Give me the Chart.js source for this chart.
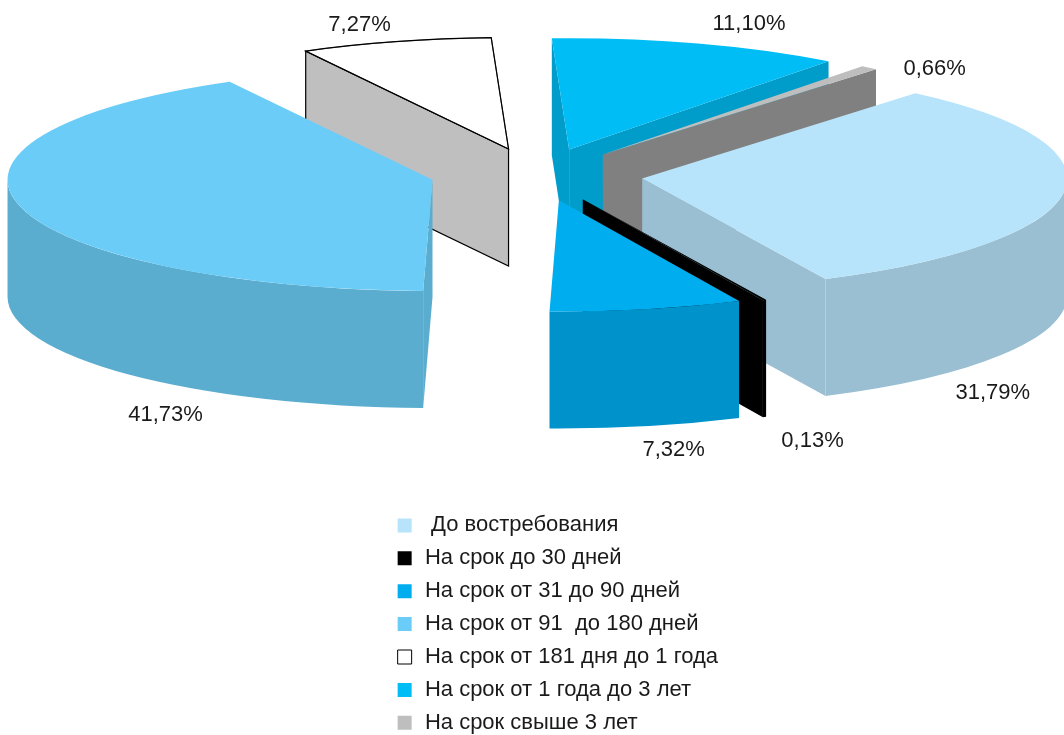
<!DOCTYPE html>
<html><head><meta charset="utf-8">
<style>html,body{margin:0;padding:0;background:#fff}canvas{display:block}</style>
<script src="https://cdn.jsdelivr.net/npm/chart.js@4"></script>
</head><body>
<canvas id="c" width="1064" height="735"></canvas>
<script>
const categories = [' До востребования','На срок до 30 дней','На срок от 31 до 90 дней','На срок от 91  до 180 дней','На срок от 181 дня до 1 года','На срок от 1 года до 3 лет','На срок свыше 3 лет'];
const shares = [31.79,0.13,7.32,41.73,7.27,11.10,0.66];
const topColors = ['#B7E4FA','#000000','#00AEEF','#6BCDF7','#FFFFFF','#00BEF5','#BEBEBE'];
const wallColors = ['#9ABFD2','#000000','#0093CB','#5AADCF','#BFBFBF','#009DCB','#808080'];
const borderWidths = [0,0,0,0,1,0,0];
const explode = [106,107,106,107.5,107,106,105];
const liftY = [-1,-2,-3,-3,0,0,0];
const drawOrder = [4,5,6,3,0,1,2];
const labelShift = [[-71,200],[48,141],[27,141],[146,209],[-36,-17],[51,-19.5],[65.5,1]];
const SQUASH = 0.262, DEPTH = 117, RADIUS = 425, CENTER_Y = 176;
const TEXT = '#1a1a1a', FONT = 'Liberation Sans, Arial, sans-serif';

const pie3d = {
  id:'pie3d',
  afterLayout(chart){
    const l = chart.legend;
    l.left = 384.5; l.right = 764; l.top = 503.5; l.bottom = 800;
  },
  beforeDatasetsDraw(chart){
    const ctx = chart.ctx, arcs = chart.getDatasetMeta(0).data;
    drawOrder.forEach(i=>{
      const a = arcs[i], p = a.getProps(['x','y','startAngle','endAngle','outerRadius']);
      const mid = (p.startAngle+p.endAngle)/2, off = explode[i];
      const sx = p.x+Math.cos(mid)*off, sy = CENTER_Y+Math.sin(mid)*off*SQUASH+liftY[i];
      const R = p.outerRadius, r = R*SQUASH;
      const pt = t=>[sx+R*Math.cos(t), sy+r*Math.sin(t)];
      const wall = path=>{ctx.beginPath();path();ctx.closePath();ctx.fillStyle=wallColors[i];ctx.fill();
        if(borderWidths[i]){ctx.strokeStyle='#000';ctx.lineWidth=1.2;ctx.stroke();}};
      const face = t=>{const q=pt(t);wall(()=>{ctx.moveTo(sx,sy);ctx.lineTo(q[0],q[1]);ctx.lineTo(q[0],q[1]+DEPTH);ctx.lineTo(sx,sy+DEPTH);});};
      // visible radial faces
      if(Math.cos(p.startAngle)<0) face(p.startAngle);
      if(Math.cos(p.endAngle)>0) face(p.endAngle);
      // visible outer rim (front half of the ellipse, angles 0..PI modulo 2PI)
      for(const k of [-2,0,2]){
        const lo=Math.max(p.startAngle,k*Math.PI), hi=Math.min(p.endAngle,(k+1)*Math.PI);
        if(hi>lo){
          wall(()=>{ctx.ellipse(sx,sy,R,r,0,lo,hi);ctx.ellipse(sx,sy+DEPTH,R,r,0,hi,lo,true);});
        }
      }
      // top surface, drawn by the library's arc element
      ctx.save();
      ctx.translate(sx,sy);ctx.scale(1,SQUASH);ctx.translate(-p.x,-p.y);
      a.draw(ctx);
      ctx.restore();
      if(borderWidths[i]){
        ctx.beginPath();ctx.moveTo(sx,sy);ctx.ellipse(sx,sy,R,r,0,p.startAngle,p.endAngle);ctx.closePath();
        ctx.strokeStyle='#000';ctx.lineWidth=1.2;ctx.stroke();
      }
    });
    return false;
  },
  afterDraw(chart){
    const ctx = chart.ctx, arcs = chart.getDatasetMeta(0).data;
    ctx.save();ctx.font='22px '+FONT;ctx.fillStyle=TEXT;ctx.textAlign='center';ctx.textBaseline='middle';
    arcs.forEach((a,i)=>{
      const p=a.getProps(['x','y','startAngle','endAngle','outerRadius']);
      const mid=(p.startAngle+p.endAngle)/2, off=explode[i];
      const x=p.x+Math.cos(mid)*(off+p.outerRadius), y=CENTER_Y+Math.sin(mid)*(off+p.outerRadius)*SQUASH+liftY[i];
      ctx.fillText(shares[i].toFixed(2).replace('.',',')+'%',x+labelShift[i][0],y+labelShift[i][1]);
    });
    ctx.restore();
  }
};

new Chart(document.getElementById('c'),{
  type:'pie',
  data:{labels:categories,datasets:[{data:shares,backgroundColor:topColors,borderColor:'#000',borderWidth:borderWidths}]},
  options:{
    responsive:false,animation:false,events:[],rotation:40,radius:RADIUS,cutout:'0%',
    layout:{padding:{left:10,right:0,top:0,bottom:0}},
    plugins:{
      tooltip:{enabled:false},
      legend:{position:'chartArea',align:'start',labels:{usePointStyle:true,pointStyle:'rect',boxWidth:18.5,boxHeight:14,padding:10.9,color:TEXT,font:{size:22,family:FONT}}}
    }
  },
  plugins:[pie3d]
});
</script>
</body></html>
